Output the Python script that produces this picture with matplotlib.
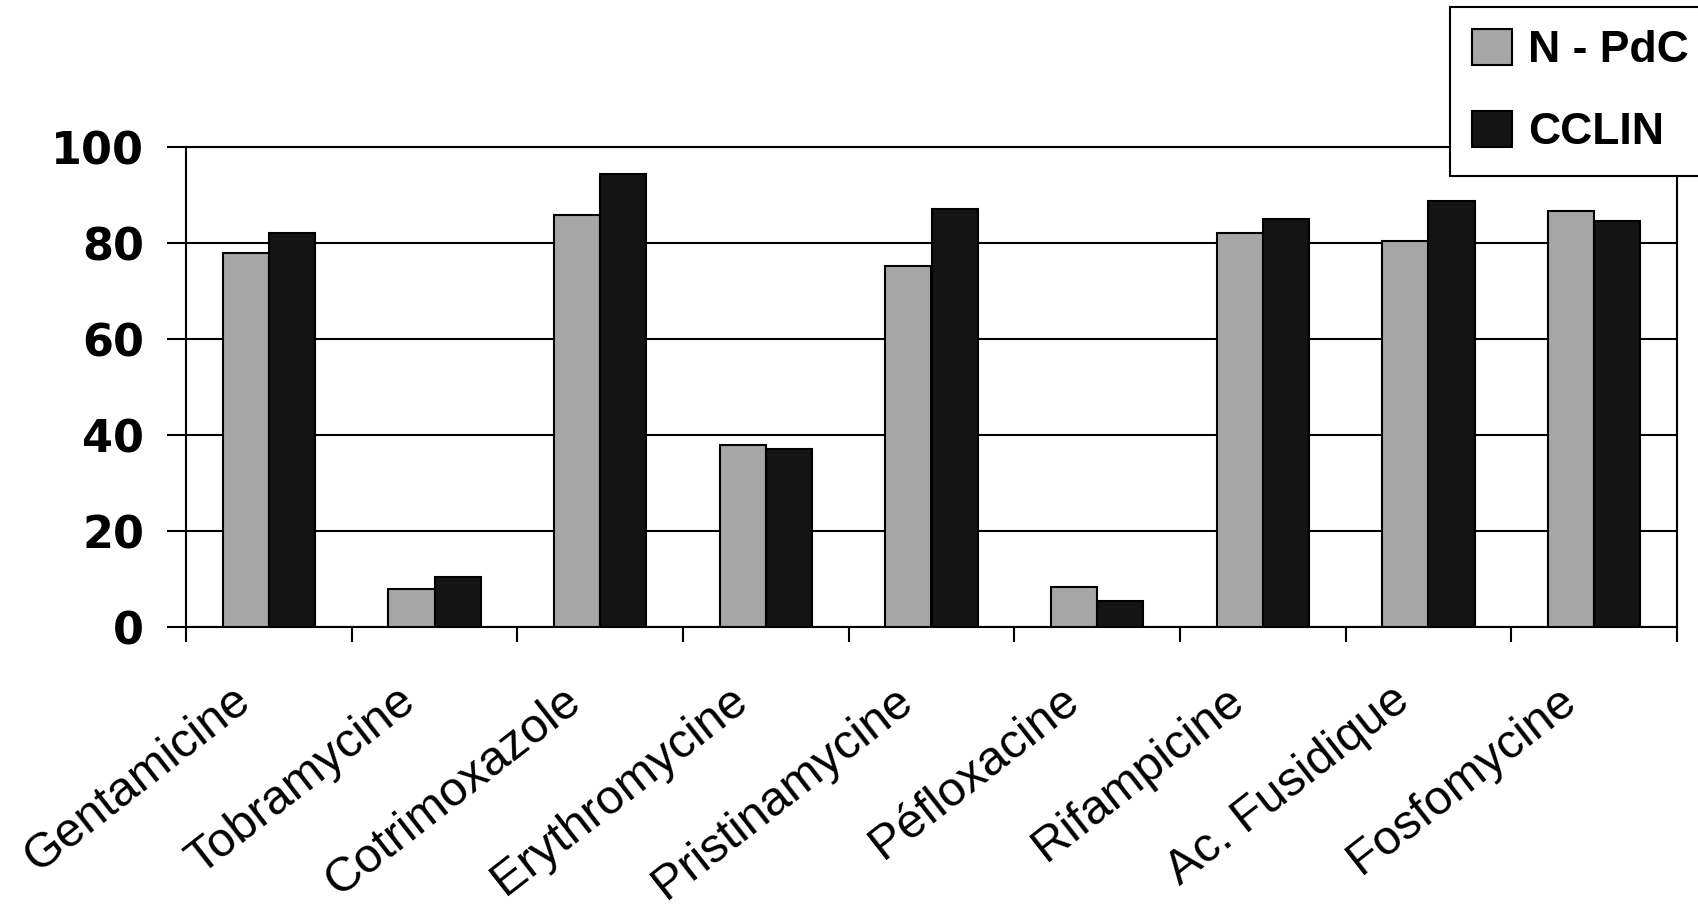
import matplotlib
matplotlib.use("Agg")
import matplotlib.pyplot as plt
import matplotlib.transforms as mtransforms
from matplotlib import font_manager
import numpy as np

categories = ["Gentamicine", "Tobramycine", "Cotrimoxazole", "Erythromycine",
              "Pristinamycine", "Péfloxacine", "Rifampicine", "Ac. Fusidique",
              "Fosfomycine"]
n_pdc = [77.9, 7.9, 85.9, 37.9, 75.3, 8.3, 82.1, 80.5, 86.7]
cclin = [82.2, 10.5, 94.4, 37.1, 87.1, 5.4, 85.1, 88.8, 84.6]
series_names = ["N - PdC", "CCLIN"]
yticks = [0, 20, 40, 60, 80, 100]

names = {f.name for f in font_manager.fontManager.ttflist}
label_font = "Liberation Sans" if "Liberation Sans" in names else "DejaVu Sans"
if "Liberation Sans Narrow" in names:
    legend_font = "Liberation Sans Narrow"
elif "Liberation Sans" in names:
    legend_font = "Liberation Sans"
else:
    legend_font = "DejaVu Sans"

W, H = 1698, 908
fig = plt.figure(figsize=(W / 100, H / 100), dpi=100)
ax = fig.add_axes([186 / W, 1 - 627.3 / H, (1677 - 186) / W, (627.3 - 147.3) / H])

x = np.arange(len(categories))
bw = 0.278
ax.bar(x - bw / 2, n_pdc, bw, color="#a6a6a6", edgecolor="black", linewidth=1.5,
       zorder=3, label=series_names[0])
ax.bar(x + bw / 2, cclin, bw, color="#141414", edgecolor="black", linewidth=1.5,
       zorder=3, label=series_names[1])

ax.set_xlim(-0.5, len(categories) - 0.5)
ax.set_ylim(0, 100)
ax.set_yticks(yticks)
ax.set_yticklabels([str(v) for v in yticks])
ax.yaxis.grid(True, color="black", linewidth=1.5, zorder=0)
ax.set_axisbelow(True)

ax.set_xticks(np.arange(len(categories) + 1) - 0.5)
ax.set_xticklabels([])
ax.set_xticks(x, minor=True)
ax.set_xticklabels(categories, minor=True)
ax.tick_params(axis="x", which="major", direction="out", length=11, width=1.5)
ax.tick_params(axis="x", which="minor", length=0, pad=49)
ax.tick_params(axis="y", direction="out", length=14, width=1.5, pad=16)
for lab in ax.get_yticklabels():
    lab.set_fontsize(32)
    lab.set_fontweight("bold")
    lab.set_fontfamily("DejaVu Sans")

offset = mtransforms.ScaledTranslation(-24 / 100, 0, fig.dpi_scale_trans)
for lab in ax.get_xticklabels(minor=True):
    lab.set_fontfamily(label_font)
    lab.set_fontsize(35)
    lab.set_rotation(38)
    lab.set_ha("right")
    lab.set_va("center")
    lab.set_rotation_mode("anchor")
    lab.set_transform(lab.get_transform() + offset)

for s in ax.spines.values():
    s.set_linewidth(1.5)
    s.set_color("black")

leg = ax.legend(loc="upper left", bbox_to_anchor=(1450 / W, 1 - 7 / H),
                bbox_transform=fig.transFigure, borderaxespad=0,
                frameon=True, fancybox=False, edgecolor="black", framealpha=1,
                handlelength=0.9, handleheight=0.85, handletextpad=0.35,
                borderpad=0.5, labelspacing=0.9,
                prop={"family": legend_font, "weight": "bold", "size": 32})
leg.get_frame().set_linewidth(1.5)
leg.set_zorder(10)

fig.savefig("out.png", dpi=100)
